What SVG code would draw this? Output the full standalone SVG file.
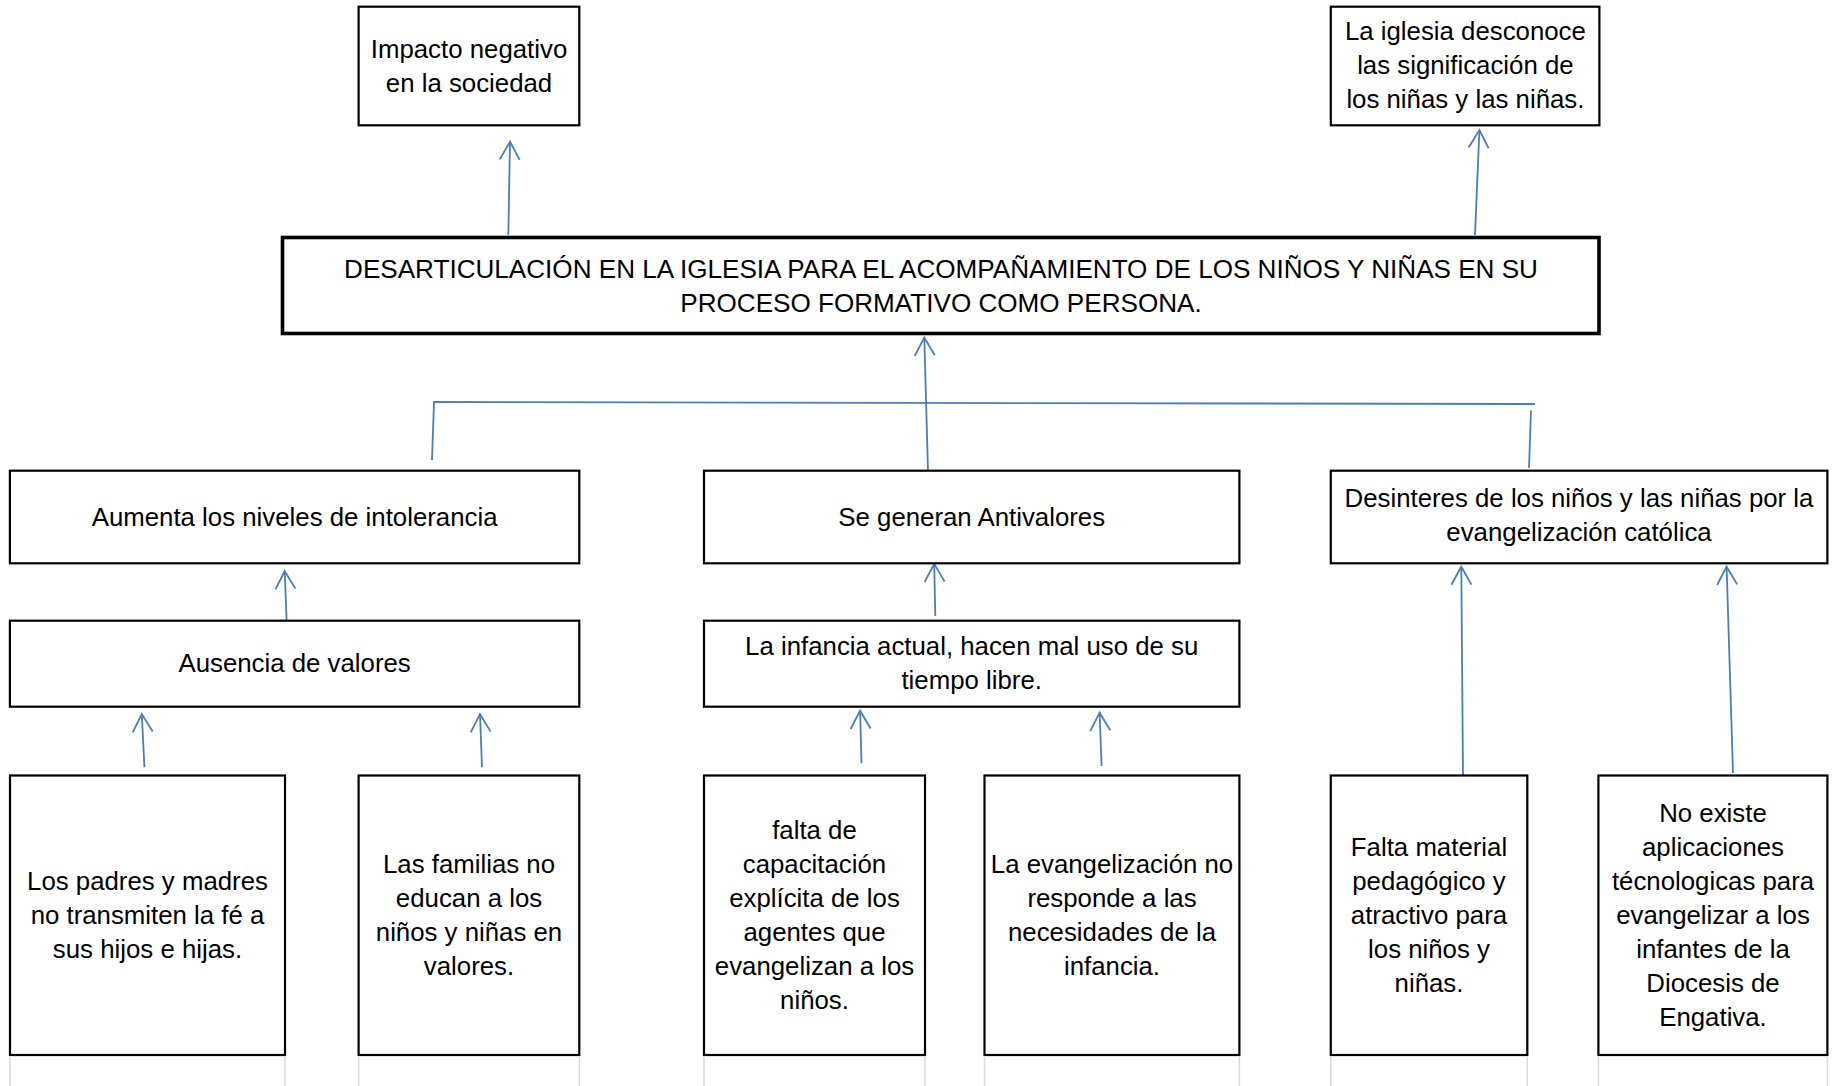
<svg xmlns="http://www.w3.org/2000/svg" width="1836" height="1086" viewBox="0 0 1836 1086">
<style>
.box{fill:#fff;stroke:#000;stroke-width:2.2}
.main{fill:#fff;stroke:#000;stroke-width:3.6}
.t{font-family:"Liberation Sans",Arial,sans-serif;font-size:25.8px;text-anchor:middle;fill:#000}
.tm{font-size:26.1px}
.conn{stroke:#4a7ebb;stroke-width:1.8;fill:none}
.grid{stroke:#d9d9d9;stroke-width:1.5}
</style>
<defs>
<marker id="ah" markerUnits="userSpaceOnUse" markerWidth="30" markerHeight="30" viewBox="0 0 30 30" refX="20" refY="15" orient="auto">
<path d="M2,5 L20,15 L2,25" fill="none" stroke="#4a7ebb" stroke-width="1.8"/>
</marker>
</defs>
<rect width="1836" height="1086" fill="#fff"/>
<g id="grid-lines">
<line class="grid" x1="10" y1="1057" x2="10" y2="1086"/>
<line class="grid" x1="285" y1="1057" x2="285" y2="1086"/>
<line class="grid" x1="358.6" y1="1057" x2="358.6" y2="1086"/>
<line class="grid" x1="579.3" y1="1057" x2="579.3" y2="1086"/>
<line class="grid" x1="704" y1="1057" x2="704" y2="1086"/>
<line class="grid" x1="925" y1="1057" x2="925" y2="1086"/>
<line class="grid" x1="984.5" y1="1057" x2="984.5" y2="1086"/>
<line class="grid" x1="1239.4" y1="1057" x2="1239.4" y2="1086"/>
<line class="grid" x1="1330.8" y1="1057" x2="1330.8" y2="1086"/>
<line class="grid" x1="1527.3" y1="1057" x2="1527.3" y2="1086"/>
<line class="grid" x1="1598.4" y1="1057" x2="1598.4" y2="1086"/>
<line class="grid" x1="1827.4" y1="1057" x2="1827.4" y2="1086"/>
</g>
<g id="connectors">
<line class="conn" x1="508.3" y1="235" x2="510" y2="141.7" marker-end="url(#ah)"/>
<line class="conn" x1="1475" y1="235" x2="1479.4" y2="130" marker-end="url(#ah)"/>
<line class="conn" x1="928" y1="471" x2="924.3" y2="337.5" marker-end="url(#ah)"/>
<polyline class="conn" points="432,460 434,402 1535,404"/>
<line class="conn" x1="1529" y1="468" x2="1531" y2="410.5"/>
<line class="conn" x1="286.7" y1="623.3" x2="284.7" y2="571" marker-end="url(#ah)"/>
<line class="conn" x1="144.4" y1="767.3" x2="141.8" y2="714" marker-end="url(#ah)"/>
<line class="conn" x1="482" y1="767.3" x2="480" y2="714" marker-end="url(#ah)"/>
<line class="conn" x1="935.3" y1="616" x2="934.2" y2="563.8" marker-end="url(#ah)"/>
<line class="conn" x1="861.5" y1="763.3" x2="860.1" y2="710.7" marker-end="url(#ah)"/>
<line class="conn" x1="1101.6" y1="766" x2="1099.6" y2="712.7" marker-end="url(#ah)"/>
<line class="conn" x1="1463" y1="776.7" x2="1461.3" y2="566.7" marker-end="url(#ah)"/>
<line class="conn" x1="1733" y1="773" x2="1726.6" y2="566.7" marker-end="url(#ah)"/>
</g>
<g id="n-impacto">
<rect class="box" x="358.6" y="6.7" width="220.7" height="118.6"/>
<text class="t"><tspan x="469" y="58.3">Impacto negativo</tspan><tspan x="469" y="91.7">en la sociedad</tspan></text>
</g>
<g id="n-iglesia">
<rect class="box" x="1330.8" y="6.7" width="268.6" height="118.6"/>
<text class="t"><tspan x="1465.4" y="40.3">La iglesia desconoce</tspan><tspan x="1465.4" y="74">las significación de</tspan><tspan x="1465.4" y="107.5">los niñas y las niñas.</tspan></text>
</g>
<g id="n-main">
<rect class="main" x="282.5" y="237.5" width="1316.5" height="96"/>
<text class="t tm"><tspan x="941" y="277.7">DESARTICULACIÓN EN LA IGLESIA PARA EL ACOMPAÑAMIENTO DE LOS NIÑOS Y NIÑAS EN SU</tspan><tspan x="941" y="311.7">PROCESO FORMATIVO COMO PERSONA.</tspan></text>
</g>
<g id="n-aumenta">
<rect class="box" x="9.9" y="470.7" width="569.4" height="92.6"/>
<text class="t" x="294.6" y="525.5">Aumenta los niveles de intolerancia</text>
</g>
<g id="n-ausencia">
<rect class="box" x="9.9" y="620.7" width="569.4" height="86"/>
<text class="t" x="294.6" y="672">Ausencia de valores</text>
</g>
<g id="n-antivalores">
<rect class="box" x="704" y="470.7" width="535.4" height="92.6"/>
<text class="t" x="971.7" y="525.5">Se generan Antivalores</text>
</g>
<g id="n-infancia">
<rect class="box" x="704" y="620.7" width="535.4" height="86"/>
<text class="t"><tspan x="971.7" y="655">La infancia actual, hacen mal uso de su</tspan><tspan x="971.7" y="688.5">tiempo libre.</tspan></text>
</g>
<g id="n-desinteres">
<rect class="box" x="1330.8" y="470.7" width="496.6" height="92.6"/>
<text class="t"><tspan x="1579" y="507.3">Desinteres de los niños y las niñas por la</tspan><tspan x="1579" y="540.7">evangelización católica</tspan></text>
</g>
<g id="n-padres">
<rect class="box" x="10" y="775.5" width="275" height="279.5"/>
<text class="t"><tspan x="147.5" y="890">Los padres y madres</tspan><tspan x="147.5" y="924">no transmiten la fé a</tspan><tspan x="147.5" y="958">sus hijos e hijas.</tspan></text>
</g>
<g id="n-familias">
<rect class="box" x="358.6" y="775.5" width="220.7" height="279.5"/>
<text class="t"><tspan x="469" y="873">Las familias no</tspan><tspan x="469" y="907">educan a los</tspan><tspan x="469" y="941">niños y niñas en</tspan><tspan x="469" y="975">valores.</tspan></text>
</g>
<g id="n-capacitacion">
<rect class="box" x="704" y="775.5" width="221" height="279.5"/>
<text class="t"><tspan x="814.5" y="839">falta de</tspan><tspan x="814.5" y="873">capacitación</tspan><tspan x="814.5" y="907">explícita de los</tspan><tspan x="814.5" y="941">agentes que</tspan><tspan x="814.5" y="975">evangelizan a los</tspan><tspan x="814.5" y="1009">niños.</tspan></text>
</g>
<g id="n-evangelizacion">
<rect class="box" x="984.5" y="775.5" width="254.9" height="279.5"/>
<text class="t"><tspan x="1112" y="873">La evangelización no</tspan><tspan x="1112" y="907">responde a las</tspan><tspan x="1112" y="941">necesidades de la</tspan><tspan x="1112" y="975">infancia.</tspan></text>
</g>
<g id="n-material">
<rect class="box" x="1330.8" y="775.5" width="196.5" height="279.5"/>
<text class="t"><tspan x="1429" y="856">Falta material</tspan><tspan x="1429" y="890">pedagógico y</tspan><tspan x="1429" y="924">atractivo para</tspan><tspan x="1429" y="958">los niños y</tspan><tspan x="1429" y="992">niñas.</tspan></text>
</g>
<g id="n-aplicaciones">
<rect class="box" x="1598.4" y="775.5" width="229" height="279.5"/>
<text class="t"><tspan x="1713" y="822">No existe</tspan><tspan x="1713" y="856">aplicaciones</tspan><tspan x="1713" y="890">técnologicas para</tspan><tspan x="1713" y="924">evangelizar a los</tspan><tspan x="1713" y="958">infantes de la</tspan><tspan x="1713" y="992">Diocesis de</tspan><tspan x="1713" y="1026">Engativa.</tspan></text>
</g>
</svg>
